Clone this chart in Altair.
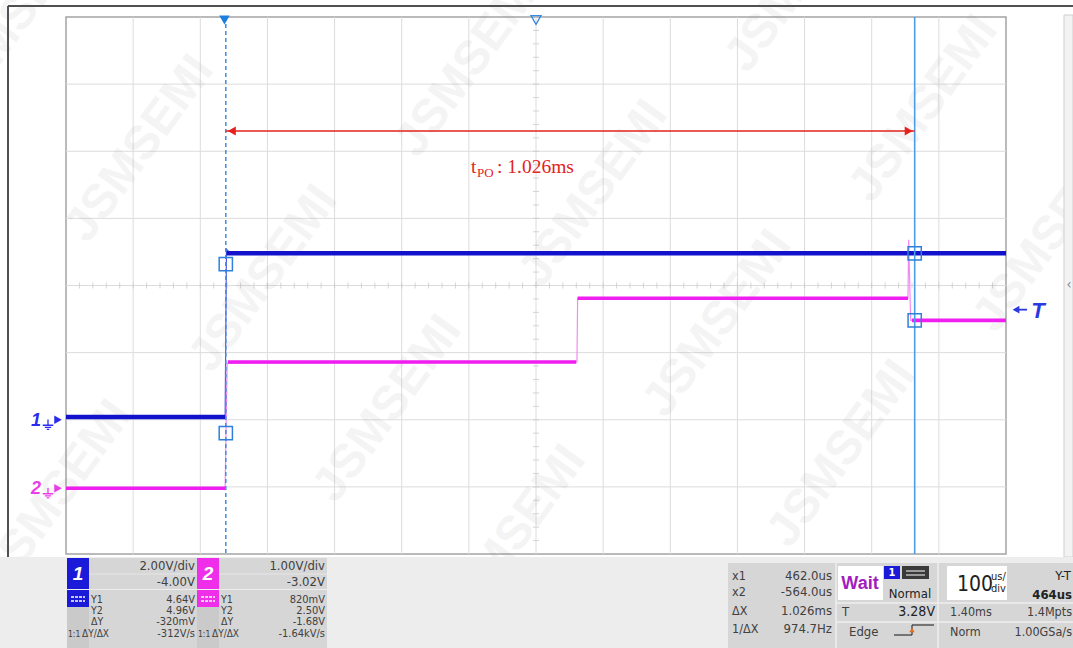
import altair as alt
import numpy as np
import pandas as pd

# ---------------- timebase ----------------
TIME_PER_DIV = 100.0            # us/div
H_DIVS, V_DIVS = 14, 8
TRIGGER_T = -566.0              # us, trigger point on the cursor time base
H_DELAY = 464.0                 # us from trigger to screen centre
T_CENTER = TRIGGER_T + H_DELAY
T_MIN = T_CENTER - TIME_PER_DIV * H_DIVS / 2
T_MAX = T_CENTER + TIME_PER_DIV * H_DIVS / 2
RECORD_LEN = TIME_PER_DIV * H_DIVS   # us
SAMPLE_RATE = 1.00e9

# ---------------- vertical ----------------
CH1_VDIV, CH1_OFFSET = 2.00, -4.00
CH2_VDIV, CH2_OFFSET = 1.00, -3.02
TRIG_LEVEL = 3.28

# ---------------- cursors ----------------
X1, X2 = 462.0, -564.0
CH1_Y1, CH1_Y2 = 4.64, 4.96
CH2_Y1, CH2_Y2 = 0.82, 2.50

# ---------------- traces (us, V) ----------------
ch1_t = [-802, -565, -563, -559, 598]
ch1_v = [0.08, 0.08, 5.08, 5.00, 4.96]
ch1_level_start = [-802, -563]
ch1_level_end = [-565, 598]
ch1_level_v = [0.08, 4.96]

ch2_t = [-802, -565, -562, -41, -40, 452, 453, 456, 598]
ch2_v = [0.00, 0.00, 1.86, 1.88, 2.83, 2.83, 3.70, 2.50, 2.50]
ch2_level_start = [-802, -561, -40, 458]
ch2_level_end = [-565, -42, 452, 598]
ch2_level_v = [0.00, 1.88, 2.83, 2.50]

# ---------------- layout ----------------
PAD_L, PAD_T = 66, 17
W, H = 940, 537
PAD_R = 1073 - PAD_L - W
PAD_B = 648 - PAD_T - H

CH1_COLOR = "#1212cc"
CH2_COLOR = "#f01ef0"
CH1_TAG = "#1a1ad8"
CH2_TAG = "#ee2ee8"
CURSOR = "#2f80da"
RED = "#e3231c"
TXT = "#404040"
GRAY_BOX = "#d6d6d6"
PANEL_BG = "#ededed"
PANEL_FONT = "Liberation Sans Narrow, DejaVu Sans Condensed, Liberation Sans, sans-serif"

ONE = pd.DataFrame({"k": [0]})


def px(x):
    return x - PAD_L


def py(y):
    return y - PAD_T


def vdomain(vdiv, offset):
    centre = -offset
    return [centre - vdiv * V_DIVS / 2, centre + vdiv * V_DIVS / 2]


XS = alt.Scale(domain=[T_MIN, T_MAX], nice=False, zero=False)


def xf(field):
    return alt.X(f"{field}:Q", scale=XS, axis=None)


def ych(field, vdiv, offset):
    return alt.Y(f"{field}:Q", scale=alt.Scale(domain=vdomain(vdiv, offset), nice=False, zero=False), axis=None)


def ydiv(field):
    return alt.Y(f"{field}:Q", scale=alt.Scale(domain=[-V_DIVS / 2, V_DIVS / 2], nice=False, zero=False), axis=None)


def fmt_v(v):
    return f"{v * 1000:.0f}mV" if abs(v) < 1 else f"{v:.2f}V"


def fmt_t(us):
    return f"{us / 1000:.3f}ms" if abs(us) >= 1000 else f"{us:.1f}us"


def fmt_slope(s):
    return f"{s / 1000:.2f}kV/s" if abs(s) >= 1000 else f"{s:.0f}V/s"


def rect(x0, y0, x1, y1, fill, **kw):
    return alt.Chart(ONE).mark_rect(color=fill, **kw).encode(
        x=alt.value(px(x0)), x2=alt.value(px(x1)), y=alt.value(py(y0)), y2=alt.value(py(y1)))


def seg(x0, y0, x1, y1, color, width=1.0, **kw):
    return alt.Chart(ONE).mark_rule(color=color, strokeWidth=width, **kw).encode(
        x=alt.value(px(x0)), x2=alt.value(px(x1)), y=alt.value(py(y0)), y2=alt.value(py(y1)))


def label(x, y, text, size=12.5, color=TXT, align="left", font=PANEL_FONT, weight="normal", style="normal", **kw):
    return alt.Chart(ONE).mark_text(text=text, align=align, baseline="middle", fontSize=size, font=font,
                                    color=color, fontWeight=weight, fontStyle=style, **kw).encode(
        x=alt.value(px(x)), y=alt.value(py(y)))


layers = []

# ---------------- graticule ----------------
grid_t = T_MIN + TIME_PER_DIV * np.arange(1, H_DIVS)
grid_d = np.arange(-V_DIVS // 2 + 1, V_DIVS // 2)
layers.append(alt.Chart(pd.DataFrame({"t": grid_t})).mark_rule(color="#dcdcdc", strokeWidth=1).encode(x=xf("t")))
layers.append(alt.Chart(pd.DataFrame({"d": grid_d})).mark_rule(color="#dcdcdc", strokeWidth=1).encode(y=ydiv("d")))

minor_t = T_MIN + TIME_PER_DIV / 5 * np.arange(1, H_DIVS * 5)
minor_d = -V_DIVS / 2 + np.arange(1, V_DIVS * 5) / 5
layers.append(alt.Chart(pd.DataFrame({"t": minor_t, "d": 0.0})).mark_tick(
    orient="vertical", size=6, thickness=1, color="#c4c4c4").encode(x=xf("t"), y=ydiv("d")))
layers.append(alt.Chart(pd.DataFrame({"t": T_CENTER, "d": minor_d})).mark_tick(
    orient="horizontal", size=6, thickness=1, color="#c4c4c4").encode(x=xf("t"), y=ydiv("d")))

# ---------------- watermark (under the traces) ----------------
for i in range(-2, 7):
    for j in range(-1, 4):
        cx = 140 + i * 124 + j * 330
        cy = 149 + i * 130 - j * 85
        if -60 < cx < 1140 and -60 < cy < 560:
            layers.append(label(cx, cy, "JSMSEMI", size=48, color="#8a8a8a", align="center",
                                font="Liberation Sans, sans-serif", weight="bold", angle=306, opacity=0.085))

# ---------------- traces ----------------
tr1 = pd.DataFrame({"t": ch1_t, "v": ch1_v, "i": range(len(ch1_t))})
tr2 = pd.DataFrame({"t": ch2_t, "v": ch2_v, "i": range(len(ch2_t))})
lv1 = pd.DataFrame({"t0": ch1_level_start, "t1": ch1_level_end, "v": ch1_level_v})
lv2 = pd.DataFrame({"t0": ch2_level_start, "t1": ch2_level_end, "v": ch2_level_v})

layers.append(alt.Chart(tr2).mark_line(color="#f38af3", strokeWidth=1.2).encode(
    x=xf("t"), y=ych("v", CH2_VDIV, CH2_OFFSET), order="i:Q"))
layers.append(alt.Chart(lv2).mark_rule(color=CH2_COLOR, strokeWidth=3.6).encode(
    x=xf("t0"), x2="t1:Q", y=ych("v", CH2_VDIV, CH2_OFFSET)))
layers.append(alt.Chart(tr1).mark_line(color="#5a5ae0", strokeWidth=1.2).encode(
    x=xf("t"), y=ych("v", CH1_VDIV, CH1_OFFSET), order="i:Q"))
layers.append(alt.Chart(lv1).mark_rule(color=CH1_COLOR, strokeWidth=4.5).encode(
    x=xf("t0"), x2="t1:Q", y=ych("v", CH1_VDIV, CH1_OFFSET)))

# ---------------- cursors ----------------
layers.append(alt.Chart(pd.DataFrame({"t": [X2]})).mark_rule(
    color="#3a8fe6", strokeWidth=1.5, strokeDash=[4, 3]).encode(x=xf("t")))
layers.append(alt.Chart(pd.DataFrame({"t": [X1]})).mark_rule(
    color="#4a9ee8", strokeWidth=1.6).encode(x=xf("t")))

sq1 = pd.DataFrame({"t": [X2, X1], "v": [CH1_Y1, CH1_Y2]})
sq2 = pd.DataFrame({"t": [X2, X1], "v": [CH2_Y1, CH2_Y2]})
layers.append(alt.Chart(sq1).mark_point(shape="square", size=175, filled=False, color=CURSOR,
                                        strokeWidth=1.5, opacity=1).encode(x=xf("t"), y=ych("v", CH1_VDIV, CH1_OFFSET)))
layers.append(alt.Chart(sq2).mark_point(shape="square", size=175, filled=False, color=CURSOR,
                                        strokeWidth=1.5, opacity=1).encode(x=xf("t"), y=ych("v", CH2_VDIV, CH2_OFFSET)))

# trigger position and horizontal centre markers
layers.append(alt.Chart(pd.DataFrame({"t": [TRIGGER_T]})).mark_point(
    shape="triangle-down", size=110, filled=True, color="#1c7fe0", opacity=1).encode(x=xf("t"), y=alt.value(3)))
layers.append(alt.Chart(pd.DataFrame({"t": [T_CENTER]})).mark_point(
    shape="triangle-down", size=100, filled=False, color="#3a8ae0", strokeWidth=1.3, opacity=1).encode(
    x=xf("t"), y=alt.value(3)))

# ---------------- delay annotation ----------------
span = pd.DataFrame({"t0": [X2], "t1": [X1]})
ARROW_Y = py(131)
layers.append(alt.Chart(span).mark_rule(color=RED, strokeWidth=1.5).encode(
    x=xf("t0"), x2="t1:Q", y=alt.value(ARROW_Y)))
layers.append(alt.Chart(pd.DataFrame({"t": [X2]})).mark_point(
    shape="triangle-left", size=85, filled=True, color=RED, opacity=1, xOffset=6).encode(
    x=xf("t"), y=alt.value(ARROW_Y)))
layers.append(alt.Chart(pd.DataFrame({"t": [X1]})).mark_point(
    shape="triangle-right", size=85, filled=True, color=RED, opacity=1, xOffset=-6).encode(
    x=xf("t"), y=alt.value(ARROW_Y)))
SERIF = "Liberation Serif, Times New Roman, serif"
layers.append(label(471, 167, "t", size=19.5, color=RED, font=SERIF))
layers.append(label(477, 173, "PO", size=13, color=RED, font=SERIF))
layers.append(label(497, 167, f": {(X1 - X2) / 1000:.3f}ms", size=19.5, color=RED, font=SERIF))

# ---------------- channel ground markers ----------------
GROUND = "M0,-1V0.1M-1,0.1H1M-0.6,0.5H0.6M-0.25,0.9H0.25"
for name, tag, vdiv, off in (("1", "#2b2bf0", CH1_VDIV, CH1_OFFSET), ("2", "#e83ee8", CH2_VDIV, CH2_OFFSET)):
    g = alt.Chart(pd.DataFrame({"v": [0.0]}))
    yy = ych("v", vdiv, off)
    layers.append(g.mark_text(text=name, fontSize=18, fontStyle="italic", fontWeight="bold",
                              font="Liberation Sans, sans-serif", color=tag, align="center",
                              baseline="middle", yOffset=1).encode(x=alt.value(px(36)), y=yy))
    layers.append(g.mark_point(shape=GROUND, size=110, filled=False, color=tag, strokeWidth=1.3,
                               opacity=1, yOffset=5).encode(x=alt.value(px(48)), y=yy))
    layers.append(g.mark_point(shape="triangle-right", size=75, filled=True, color=tag,
                               opacity=1).encode(x=alt.value(px(58)), y=yy))

# trigger level marker
trig = alt.Chart(pd.DataFrame({"v": [TRIG_LEVEL]}))
ytr = ych("v", CH1_VDIV, CH1_OFFSET)
layers.append(trig.mark_rule(color="#2a3ae0", strokeWidth=1.8).encode(
    x=alt.value(px(1016)), x2=alt.value(px(1027)), y=ytr))
layers.append(trig.mark_point(shape="triangle-left", size=60, filled=True, color="#2a3ae0",
                              opacity=1).encode(x=alt.value(px(1016)), y=ytr))
layers.append(trig.mark_text(text="T", fontSize=22, fontStyle="italic", fontWeight="bold",
                             font="Liberation Sans, sans-serif", color="#2a3ae0", align="center",
                             baseline="middle", yOffset=1).encode(x=alt.value(px(1038)), y=ytr))

# ---------------- frame ----------------
layers.append(seg(8, 6, 1073, 6, "#505050", 2))
layers.append(seg(8, 6, 8, 648, "#505050", 2))
layers.append(rect(1064, 15, 1073, 557, "#f3f3f3", stroke="#cfcfcf", strokeWidth=1))
layers.append(label(1069, 285, "‹", size=14, color="#888888", align="center"))

# ---------------- status bar ----------------
layers.append(rect(0, 557, 1073, 648, PANEL_BG))

dx = (X1 - X2)
for (x0, tag, vdiv, off, y1, y2) in ((67, CH1_TAG, CH1_VDIV, CH1_OFFSET, CH1_Y1, CH1_Y2),
                                     (197, CH2_TAG, CH2_VDIV, CH2_OFFSET, CH2_Y1, CH2_Y2)):
    name = "1" if x0 == 67 else "2"
    right = x0 + 130
    layers.append(rect(x0, 558, x0 + 22, 589, tag))
    layers.append(rect(x0 + 22, 558, right, 589, GRAY_BOX))
    layers.append(seg(x0 + 22, 574, right, 574, "#e6e6e6", 1))
    layers.append(rect(x0, 590, x0 + 22, 607, tag))
    layers.append(rect(x0, 607, x0 + 22, 648, "#cacaca"))
    layers.append(rect(x0 + 22, 590, right, 648, GRAY_BOX))
    layers.append(seg(x0 + 4, 597, x0 + 18, 597, "white", 1.5, strokeDash=[3, 1]))
    layers.append(seg(x0 + 4, 601, x0 + 18, 601, "white", 1.5, strokeDash=[3, 1]))
    layers.append(label(x0 + 11, 574, name, size=19, color="white", align="center",
                        font="Liberation Sans, sans-serif", weight="bold", style="italic"))
    layers.append(label(right - 2, 566, f"{vdiv:.2f}V/div", size=13, align="right"))
    layers.append(label(right - 2, 582, f"{off:.2f}V", size=13, align="right"))
    dy = y1 - y2
    rows = (("Y1", fmt_v(y1), 600), ("Y2", fmt_v(y2), 611), ("ΔY", fmt_v(dy), 622),
            ("ΔY/ΔX", fmt_slope(dy / (dx * 1e-6)), 634))
    for key, val, yy in rows:
        kx = x0 + 15 if key == "ΔY/ΔX" else x0 + 24
        layers.append(label(kx, yy, key, size=10 if key == "ΔY/ΔX" else 10.5))
        layers.append(label(right - 2, yy, val, size=11, align="right"))
    layers.append(label(x0 + 1, 634, "1:1", size=8.5))

# cursor readout
layers.append(rect(728, 563, 1073, 648, GRAY_BOX))
for key, val, yy in (("x1", fmt_t(X1), 576), ("x2", fmt_t(X2), 592),
                     ("ΔX", fmt_t(dx), 611), ("1/ΔX", f"{1e6 / dx:.1f}Hz", 629)):
    layers.append(label(732, yy, key, size=12.5))
    layers.append(label(832, yy, val, size=13, align="right"))
layers.append(seg(836, 563, 836, 648, "#eeeeee", 1.5))
layers.append(seg(938, 563, 938, 648, "#eeeeee", 1.5))
layers.append(seg(836, 603, 1073, 603, "#eeeeee", 1.5))
layers.append(seg(836, 622, 1073, 622, "#eeeeee", 1.5))

# trigger status
layers.append(rect(838, 566, 883, 600, "white"))
layers.append(label(860, 584, "Wait", size=18, color="#a21cc0", align="center",
                    font="Liberation Sans, sans-serif", weight="bold"))
layers.append(rect(884, 566, 900, 579, CH1_TAG))
layers.append(label(892, 573, "1", size=11, color="white", align="center", weight="bold"))
layers.append(rect(902, 566, 929, 579, "#3a3a3a"))
layers.append(seg(906, 571, 925, 571, "#dddddd", 1.2))
layers.append(seg(906, 575, 925, 575, "#dddddd", 1.2))
layers.append(label(910, 594, "Normal", size=13, color="#222222", align="center"))
layers.append(label(842, 612, "T", size=13))
layers.append(label(935, 612, f"{TRIG_LEVEL:.2f}V", size=14, color="#222222", align="right"))
layers.append(label(849, 632, "Edge", size=13))
layers.append(seg(894, 635, 912, 635, "#333333", 1.2))
layers.append(seg(912, 635, 912, 625, "#333333", 1.2))
layers.append(seg(912, 625, 934, 625, "#333333", 1.2))
layers.append(alt.Chart(ONE).mark_point(shape="triangle-up", size=30, filled=True, color="#e0701e",
                                        opacity=1).encode(x=alt.value(px(912)), y=alt.value(py(630))))

# timebase
layers.append(rect(947, 566, 1007, 600, "white"))
layers.append(label(957, 585, f"{TIME_PER_DIV:.0f}", size=21, color="#222222"))
layers.append(label(991, 577, "us/", size=11, color="#222222"))
layers.append(label(991, 589, "div", size=11, color="#222222"))
layers.append(label(1071, 576, "Y-T", size=13, color="#222222", align="right"))
layers.append(label(1072, 595, f"{H_DELAY:.0f}us", size=13, color="#222222", align="right", weight="bold"))
layers.append(label(950, 612, f"{RECORD_LEN / 1000:.2f}ms", size=12.5))
layers.append(label(1072, 612, f"{RECORD_LEN * 1e-6 * SAMPLE_RATE / 1e6:.1f}Mpts", size=12.5, align="right"))
layers.append(label(950, 632, "Norm", size=12.5))
layers.append(label(1072, 632, f"{SAMPLE_RATE / 1e9:.2f}GSa/s", size=12.5, align="right"))

chart = alt.layer(*layers).resolve_scale(y="independent").properties(
    width=W, height=H,
    padding={"left": PAD_L, "top": PAD_T, "right": PAD_R, "bottom": PAD_B},
    autosize=alt.AutoSizeParams(type="none"),
    background="white",
).configure_view(stroke="#a4a4a4", strokeWidth=1.5)

chart.save("out.html", embed_options={"renderer": "svg", "actions": False})
